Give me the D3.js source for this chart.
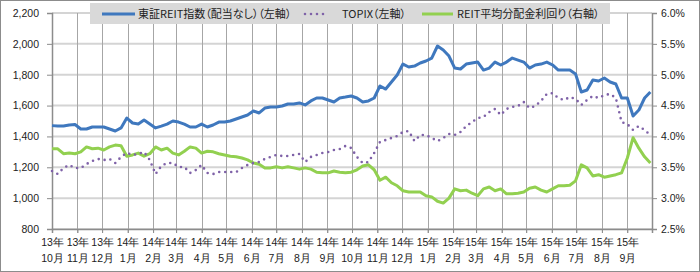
<!DOCTYPE html>
<html>
<head>
<meta charset="utf-8">
<script src="https://cdn.jsdelivr.net/npm/d3@7"></script>
<style>
  html, body { margin: 0; padding: 0; background: #fff; }
  svg { display: block; font-family: "Noto Sans CJK JP", "Noto Sans", sans-serif; }
  .legend text { font-feature-settings: "palt"; }
</style>
</head>
<body>
<div id="chart"></div>
<script>
// weekly readings, first week starts 2013-10-01
const startDate = new Date(2013, 9, 1);
const endDate = new Date(2015, 9, 1);

const reitIndex = [
  1470, 1467, 1467, 1474, 1477, 1448, 1448, 1461, 1461, 1461, 1448, 1435, 1455, 1519, 1487, 1480,
  1506, 1480, 1455, 1467, 1480, 1500, 1493, 1480, 1461, 1461, 1480, 1461, 1474, 1493, 1493, 1500,
  1513, 1526, 1539, 1565, 1552, 1584, 1591, 1591, 1597, 1610, 1610, 1617, 1604, 1630, 1649, 1649,
  1636, 1623, 1649, 1655, 1662, 1649, 1623, 1630, 1649, 1727, 1707, 1753, 1798, 1869, 1850, 1856,
  1876, 1889, 1908, 1986, 1960, 1921, 1843, 1837, 1869, 1876, 1882, 1830, 1843, 1882, 1863, 1882,
  1908, 1895, 1882, 1843, 1863, 1869, 1882, 1863, 1830, 1830, 1830, 1805, 1688, 1701, 1766, 1759,
  1779, 1753, 1740, 1649, 1649, 1532, 1571, 1649, 1688
];

const topix = [
  1176, 1156, 1195, 1215, 1195, 1195, 1221, 1241, 1254, 1247, 1254, 1228, 1267, 1293, 1280, 1286,
  1299, 1247, 1156, 1208, 1228, 1228, 1202, 1202, 1163, 1182, 1215, 1163, 1156, 1169, 1169, 1169,
  1169, 1195, 1215, 1228, 1234, 1254, 1267, 1280, 1273, 1273, 1280, 1286, 1234, 1267, 1280, 1293,
  1299, 1312, 1318, 1338, 1325, 1267, 1228, 1234, 1293, 1364, 1377, 1390, 1403, 1429, 1435, 1370,
  1409, 1409, 1390, 1370, 1390, 1416, 1409, 1429, 1467, 1493, 1519, 1526, 1558, 1578, 1539, 1578,
  1591, 1597, 1623, 1584, 1597, 1630, 1675, 1681, 1649, 1636, 1655, 1643, 1604, 1636, 1662, 1649,
  1668, 1675, 1649, 1493, 1480, 1442, 1467, 1442, 1409
];

const reitYield = [
  3.80, 3.80, 3.72, 3.73, 3.72, 3.75, 3.83, 3.80, 3.81, 3.78, 3.83, 3.86, 3.85, 3.68, 3.70, 3.73,
  3.68, 3.72, 3.83, 3.78, 3.81, 3.73, 3.70, 3.76, 3.83, 3.81, 3.73, 3.76, 3.75, 3.72, 3.70, 3.68,
  3.67, 3.65, 3.62, 3.57, 3.55, 3.49, 3.49, 3.51, 3.49, 3.51, 3.49, 3.47, 3.49, 3.47, 3.42, 3.41,
  3.41, 3.44, 3.42, 3.41, 3.42, 3.46, 3.52, 3.54, 3.46, 3.29, 3.34, 3.25, 3.20, 3.12, 3.10, 3.10,
  3.10, 3.04, 3.02, 2.95, 2.92, 3.00, 3.15, 3.12, 3.13, 3.08, 3.04, 3.15, 3.18, 3.12, 3.15, 3.07,
  3.07, 3.08, 3.10, 3.16, 3.18, 3.13, 3.10, 3.15, 3.20, 3.20, 3.21, 3.28, 3.54, 3.49, 3.36, 3.38,
  3.34, 3.36, 3.38, 3.41, 3.65, 3.98, 3.81, 3.67, 3.57
];

const leftTicks = [800, 1000, 1200, 1400, 1600, 1800, 2000, 2200];
const rightTicks = [2.5, 3.0, 3.5, 4.0, 4.5, 5.0, 5.5, 6.0];
const seriesNames = ["東証REIT指数（配当なし）（左軸）", "TOPIX（左軸）", "REIT平均分配金利回り（右軸）"];

const width = 700, height = 272;
const margin = { top: 13, right: 48, bottom: 43, left: 52 };
const plotW = width - margin.left - margin.right;
const plotH = height - margin.top - margin.bottom;

const dates = reitIndex.map((_, i) => d3.timeDay.offset(startDate, i * 7));

const svg = d3.select("#chart").append("svg")
  .attr("width", width)
  .attr("height", height);

svg.append("rect")
  .attr("x", 0.5).attr("y", 0.5)
  .attr("width", width - 1).attr("height", height - 1)
  .attr("fill", "#fff")
  .attr("stroke", "#8c8c8c");

const g = svg.append("g").attr("transform", `translate(${margin.left},${margin.top})`);

const x = d3.scaleTime().domain([startDate, endDate]).range([0, plotW]);
const yL = d3.scaleLinear().domain([800, 2200]).range([plotH, 0]);
const yR = d3.scaleLinear().domain([2.5, 6.0]).range([plotH, 0]);

const months = d3.timeMonth.range(startDate, endDate);

// grid
g.append("g").selectAll("line").data(leftTicks).join("line")
  .attr("x1", 0).attr("x2", plotW)
  .attr("y1", (d) => yL(d)).attr("y2", (d) => yL(d))
  .attr("stroke", "#d4d4d4").attr("stroke-width", 2);

g.append("g").selectAll("line").data(months.slice(1)).join("line")
  .attr("x1", (d) => Math.round(x(d)) + 0.5).attr("x2", (d) => Math.round(x(d)) + 0.5)
  .attr("y1", 0).attr("y2", plotH + 4)
  .attr("stroke", "#a6a6a6").attr("stroke-width", 1);

// axes
const axisL = g.append("g")
  .call(d3.axisLeft(yL).tickValues(leftTicks).tickFormat(d3.format(",")).tickSize(5).tickPadding(8));
const axisR = g.append("g")
  .attr("transform", `translate(${plotW},0)`)
  .call(d3.axisRight(yR).tickValues(rightTicks).tickFormat((d) => d.toFixed(1) + "%").tickSize(5).tickPadding(4));

const axisB = g.append("g")
  .attr("transform", `translate(0,${plotH})`)
  .call(d3.axisBottom(x).tickValues(months).tickSize(4).tickFormat(""));

[axisL, axisR, axisB].forEach((a) => {
  a.select(".domain").attr("stroke", "#8c8c8c").attr("stroke-width", 1.5);
  a.selectAll(".tick line").attr("stroke", "#8c8c8c");
  a.selectAll("text").attr("fill", "#222").style("font-size", "10.5px");
});

axisB.selectAll(".tick text")
  .each(function (d) {
    const t = d3.select(this).attr("y", 0).attr("dy", null);
    t.append("tspan").attr("x", 0).attr("y", 17).text(d3.timeFormat("%y")(d) + "年");
    t.append("tspan").attr("x", 0).attr("y", 33).text((d.getMonth() + 1) + "月");
  });

// lines
const lineL = (vals) => d3.line().x((d, i) => x(dates[i])).y((d) => yL(d))(vals);
const lineR = (vals) => d3.line().x((d, i) => x(dates[i])).y((d) => yR(d))(vals);

g.append("path")
  .attr("d", lineR(reitYield))
  .attr("fill", "none").attr("stroke", "#92d050").attr("stroke-width", 3)
  .attr("stroke-linejoin", "round");

g.append("path")
  .attr("d", lineL(topix))
  .attr("fill", "none").attr("stroke", "#7f62a8").attr("stroke-width", 2.6)
  .attr("stroke-dasharray", "0 6").attr("stroke-linecap", "round");

g.append("path")
  .attr("d", lineL(reitIndex))
  .attr("fill", "none").attr("stroke", "#3f78be").attr("stroke-width", 3)
  .attr("stroke-linejoin", "round");

// legend
const legend = svg.append("g").attr("class", "legend");
legend.append("rect")
  .attr("x", 90).attr("y", 3).attr("width", 520).attr("height", 21)
  .attr("fill", "#d9d9d9");

const items = [
  { name: seriesNames[0], color: "#3f78be", dash: null, x0: 102, x1: 135, tx: 138 },
  { name: seriesNames[1], color: "#7f62a8", dash: "0 6", x0: 305, x1: 329, tx: 342 },
  { name: seriesNames[2], color: "#92d050", dash: null, x0: 422, x1: 453, tx: 457 },
];
items.forEach((it) => {
  legend.append("line")
    .attr("x1", it.x0).attr("x2", it.x1).attr("y1", 14).attr("y2", 14)
    .attr("stroke", it.color).attr("stroke-width", it.dash ? 2.6 : 3)
    .attr("stroke-dasharray", it.dash)
    .attr("stroke-linecap", it.dash ? "round" : "butt");
  legend.append("text")
    .attr("x", it.tx).attr("y", 14).attr("dy", "0.36em")
    .style("font-size", "11px").attr("fill", "#222")
    .text(it.name);
});
</script>
</body>
</html>
